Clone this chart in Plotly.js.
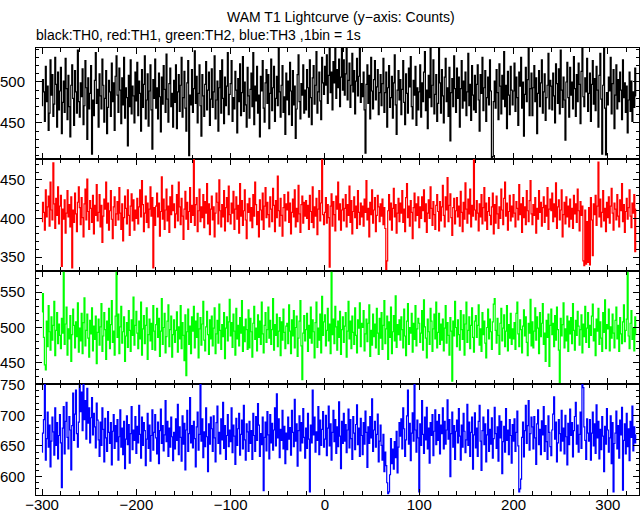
<!DOCTYPE html>
<html><head><meta charset="utf-8">
<script src="https://cdn.plot.ly/plotly-3.0.1.min.js"></script>
<style>html,body{margin:0;padding:0;background:#fff}#chart{width:643px;height:515px}</style>
</head><body><div id="chart"></div>
<script>
// Time of first bin (s) and bin size (s)
const tStart = -300;
const binSize = 1;

const th0 = [
471,503,488,452,519,476,495,441,462,527,484,509,458,473,530,497,445,512,466,489,
518,437,475,501,463,529,492,454,508,470,433,496,521,480,447,514,488,462,539,476,
457,499,482,516,448,471,526,493,430,505,467,486,520,412,478,459,502,536,474,491,
445,510,483,467,528,496,451,480,514,437,469,502,488,458,523,476,499,441,507,532,
484,463,517,490,449,505,472,530,456,493,481,422,508,470,527,461,495,483,450,512,
477,524,459,501,486,440,515,469,497,532,455,478,510,446,489,521,466,418,503,480,
528,468,493,455,511,482,439,506,473,520,491,463,534,479,451,498,517,470,486,445,
502,475,521,443,488,509,464,496,530,457,481,513,468,440,499,526,410,484,472,515,
463,492,538,474,507,450,486,521,471,434,509,483,458,497,525,466,490,512,447,479,
516,469,488,532,455,478,501,440,493,514,462,527,480,449,506,471,495,536,460,485,
498,526,452,481,467,513,490,438,504,476,522,459,487,531,464,500,472,445,518,483,
456,491,511,470,536,448,495,477,519,462,484,433,507,489,526,468,451,499,515,474,
509,443,486,528,465,493,519,452,480,507,471,541,488,457,496,520,463,482,436,511,
478,501,460,524,489,447,514,472,495,431,467,509,533,476,455,498,484,521,462,490,
466,515,493,457,527,481,448,505,520,473,496,537,462,488,512,477,454,530,499,485,
519,496,533,474,508,541,487,512,466,525,499,541,480,515,493,528,470,506,541,490,
527,484,510,541,478,502,523,469,496,535,488,514,461,501,529,483,507,541,475,498,
482,512,466,413,497,521,474,508,455,530,489,467,503,526,478,494,515,460,487,509,
471,498,529,463,487,512,445,493,520,469,481,507,456,499,533,472,436,490,514,478,
503,460,491,526,475,448,510,486,462,517,494,531,470,455,502,484,519,447,493,466,
488,521,457,499,476,512,537,465,490,443,508,481,541,470,496,527,461,485,509,452,
474,541,499,462,515,483,450,506,529,476,493,458,518,428,487,504,470,532,492,463,
517,480,506,445,492,526,468,501,477,512,459,488,535,471,497,453,520,484,466,508,
463,497,521,478,440,509,486,530,465,493,514,452,481,506,472,527,489,408,409,476,
501,468,515,487,454,522,495,461,508,479,537,470,496,443,513,484,460,519,490,472,
489,523,464,506,481,447,512,495,530,468,500,434,485,518,476,503,541,459,492,511,
459,493,520,476,505,437,486,514,470,499,527,462,488,510,453,481,496,535,467,502,
495,466,511,483,450,522,498,474,516,461,539,490,469,506,478,429,500,524,481,457,
518,484,500,467,531,492,458,509,476,523,497,449,513,541,482,470,505,488,529,464,
486,511,452,497,526,473,504,465,519,490,445,508,535,479,412,496,541,468,411,487,
472,506,489,530,461,498,515,443,484,521,467,503,476,512,490,454,527,481,499,463,
495,438,478,512,464,501,452,488,469,517,483];

const th1 = [
396,421,408,385,437,402,415,429,390,447,411,398,472,419,387,426,404,441,393,416,
430,338,412,399,424,381,407,436,402,418,389,428,336,411,395,433,406,383,421,441,
414,392,427,401,376,419,438,398,451,409,386,423,413,395,430,380,417,404,444,397,
408,431,389,417,369,403,425,412,447,394,420,385,410,436,399,374,415,428,391,406,
422,398,440,407,386,419,371,401,429,413,393,437,404,378,416,432,397,424,385,411,
400,426,393,415,437,402,449,418,383,407,429,395,420,388,412,441,403,427,336,414,
391,416,433,402,420,377,409,454,399,425,386,411,438,397,416,382,428,405,443,410,
419,388,406,431,397,447,415,392,426,403,373,412,435,399,421,386,409,440,395,417,
404,476,391,418,427,383,410,438,396,415,401,431,388,422,407,445,393,419,379,412,
429,398,415,376,407,433,421,393,450,410,389,418,402,436,384,414,427,396,442,405,
393,420,407,435,386,412,428,399,417,381,445,403,423,391,410,437,398,374,419,408,
426,397,414,388,431,403,447,418,392,409,376,424,411,398,433,386,416,440,401,421,
405,389,428,412,396,439,417,383,423,401,455,410,390,426,404,377,414,431,397,419,
411,434,395,420,380,408,425,402,437,389,413,396,443,406,382,418,429,394,421,403,
423,400,417,386,430,409,395,441,388,415,403,426,379,412,436,397,420,476,405,392,
408,427,394,418,401,337,416,432,390,422,405,384,429,412,447,398,419,385,411,425,
397,413,431,389,418,404,442,395,423,380,409,428,401,416,387,436,408,392,420,402,
416,390,425,408,449,398,413,376,421,405,437,394,411,427,383,404,430,415,396,419,
403,425,392,414,387,333,345,410,431,398,420,385,413,439,402,418,381,407,426,396,
420,407,436,395,412,383,427,445,401,416,390,423,408,374,414,433,397,419,404,428,
388,415,400,428,410,437,396,419,382,407,424,400,441,413,391,422,405,386,417,431,
409,384,422,397,415,443,404,389,428,411,453,396,417,432,401,378,414,426,393,410,
427,402,416,390,435,408,383,421,399,446,412,394,425,406,438,389,417,403,476,411,
398,423,407,384,419,402,431,393,414,440,397,420,386,409,427,404,392,415,433,380,
418,394,429,406,387,415,400,438,411,392,426,447,403,420,385,409,430,397,416,402,
431,407,389,422,413,398,444,405,419,382,427,401,415,392,436,410,396,423,449,406,
392,418,404,427,381,413,399,436,408,421,390,414,428,395,417,403,440,386,412,425,
410,433,396,419,402,446,387,415,424,398,411,437,376,405,421,393,428,402,416,389,
425,399,413,387,430,406,419,395,438,410,384,422,404,416,345,339,411,341,396,343,
414,340,427,398,352,419,405,430,391,416,473,402,425,389,408,436,397,413,383,421,
401,428,394,416,439,407,385,420,412,398,431,403,389,424,410,445,396,418,382,409,
426,399,414,437,403,388,420,407,431,357,412];

const th2 = [
522,548,486,447,440,509,473,531,494,468,515,482,503,537,460,496,521,477,505,489,
470,513,492,578,476,505,529,461,498,484,517,452,490,526,503,471,508,487,535,465,
499,481,520,463,507,542,474,496,519,485,458,510,491,528,467,502,483,516,449,493,
512,475,501,534,466,488,521,497,455,509,482,527,470,504,538,479,495,461,516,578,
486,519,463,501,530,478,494,515,452,488,507,472,524,496,466,511,489,543,475,503,
523,492,470,509,484,536,461,498,517,477,503,528,455,490,512,481,506,469,531,495,
468,504,527,486,513,459,495,541,476,500,520,464,487,509,532,473,497,516,458,490,
511,479,496,522,465,501,484,531,470,507,489,453,518,432,494,526,476,502,463,515,
495,530,471,509,486,520,457,498,514,475,505,537,482,467,501,523,490,462,511,484,
516,474,499,528,463,491,510,478,533,496,469,504,487,521,456,499,515,481,508,540,
488,507,472,519,495,461,527,484,503,474,514,492,538,466,501,480,512,497,469,525,
471,513,494,458,506,530,483,499,467,518,486,509,476,536,491,464,503,521,479,497,
529,485,510,476,497,541,468,504,489,519,473,495,514,460,508,482,526,493,470,502,
506,477,532,495,463,511,488,524,471,500,516,459,485,509,538,474,426,492,517,481,
497,520,466,503,485,529,478,511,494,457,507,536,472,499,482,519,464,544,489,508,
518,474,496,527,481,505,463,578,490,512,477,530,501,468,509,486,523,462,497,515,
479,502,521,458,495,537,484,509,470,516,493,476,528,489,464,511,499,535,473,506,
500,524,467,491,512,480,506,532,459,496,475,519,487,505,471,527,492,462,513,485,
521,469,503,538,477,498,516,455,508,486,529,463,494,517,481,545,472,504,490,511,
482,515,497,471,526,488,460,509,534,476,500,492,520,465,506,483,531,474,498,513,
506,479,492,524,468,539,501,485,457,512,494,476,527,509,466,498,519,484,536,471,
493,520,476,505,482,512,467,499,531,478,507,489,461,514,495,424,509,488,537,500,
473,511,490,468,524,497,483,518,461,505,536,479,496,515,470,503,528,486,465,509,
517,486,503,532,475,498,466,521,490,509,478,457,500,526,484,512,494,469,508,533,
541,496,478,513,489,462,506,527,481,499,518,473,495,531,467,504,485,520,476,498,
484,507,469,520,536,491,473,511,497,464,502,525,488,515,479,460,506,492,540,474,
508,471,495,528,482,515,499,463,521,487,506,534,476,492,452,510,486,519,445,503,
526,490,506,473,517,482,529,497,468,422,513,488,504,535,471,498,481,516,466,509,
491,514,477,534,496,468,510,489,523,502,475,497,518,464,505,487,530,479,499,521,
472,503,489,516,533,481,498,460,512,495,527,476,508,485,466,521,493,539,470,504,
498,526,467,501,485,519,492,471,510,529,484,503,466,514,491,477,508,532,480,496,
512,578,488,470,506,524,483,499,467,515,490];

const th3 = [
640,671,693,750,627,662,705,648,684,616,658,697,673,635,712,651,688,629,667,701,
655,582,679,714,637,690,721,664,645,698,676,611,683,736,659,702,741,670,648,689,
751,706,738,675,751,693,724,661,744,687,712,655,696,729,668,703,681,647,720,692,
660,633,689,651,712,677,624,695,663,641,706,672,654,688,619,674,701,646,683,657,
693,627,665,709,648,679,636,690,613,661,699,652,685,622,670,714,644,676,659,698,
638,682,655,716,669,630,697,651,688,675,618,661,703,646,684,625,667,709,643,672,
701,663,637,689,621,675,710,654,683,642,668,724,657,690,633,679,648,697,665,626,
672,645,694,659,718,636,681,664,625,699,653,687,611,676,708,641,670,729,655,683,
647,690,662,616,681,705,643,669,751,658,694,631,673,649,712,665,608,686,653,697,
678,641,699,663,624,688,715,654,672,637,694,660,721,646,683,628,667,701,649,676,
657,712,639,684,666,620,695,651,678,703,635,669,692,645,716,660,627,686,673,641,
690,654,675,628,703,667,641,698,659,719,684,633,670,652,697,577,664,689,642,706,
668,629,701,655,687,643,676,712,650,735,663,694,631,677,659,708,645,682,621,671,
644,697,661,680,635,708,672,649,726,658,686,617,675,699,642,688,655,711,664,630,
679,646,703,661,575,684,655,741,668,697,640,673,659,714,636,692,651,677,706,648,
661,700,634,679,715,650,686,627,672,708,657,693,638,681,649,722,666,613,690,654,
703,658,685,639,676,710,647,693,662,628,698,671,644,685,717,652,679,633,695,667,
636,688,653,707,672,615,681,654,698,663,727,641,676,690,648,669,702,624,658,684,
651,627,669,608,640,618,590,572,575,603,662,621,645,612,657,631,674,606,648,688,
666,694,645,712,678,633,660,699,741,653,687,626,671,704,658,751,676,640,692,663,
575,686,651,724,669,638,697,660,713,645,679,622,688,667,701,634,674,709,652,690,
659,701,637,684,670,712,645,690,653,676,725,661,693,600,670,705,648,683,628,674,
692,655,711,666,627,684,648,703,674,639,660,718,651,689,633,672,697,612,668,704,
647,679,633,690,716,658,610,675,697,652,686,624,668,709,641,677,653,696,630,662,
713,670,646,681,625,699,663,690,605,657,682,640,711,659,676,636,693,667,622,685,
658,694,641,672,707,650,575,580,596,664,689,632,675,716,654,683,724,643,670,697,
681,645,698,663,620,686,709,652,677,636,691,668,714,641,683,657,628,699,672,649,
634,676,702,730,661,689,624,655,693,670,642,708,658,679,637,700,665,619,687,652,
710,667,688,632,675,698,721,653,684,640,669,705,646,751,745,681,659,628,694,671,
658,693,627,671,705,650,686,638,717,663,690,629,677,644,698,666,608,682,653,711,
676,640,663,699,621,688,575,654,671,707,645,683,630,692,668,713,578,659,686,637,
703,649,678,626,690,664,715,642,681,655,668];

const seriesNames = ["TH0", "TH1", "TH2", "TH3"];
const seriesColors = ["#000000", "#ff0000", "#00ff00", "#0000ff"];
const seriesData = [th0, th1, th2, th3];
const yRanges = [[406, 541.5], [332, 477], [420, 580], [570, 751]];
const yTickVals = [[450, 500], [350, 400, 450], [450, 500, 550], [600, 650, 700, 750]];
const xRange = [-306.4, 333];
const xTickVals = [-300, -200, -100, 0, 100, 200, 300];

const titleText = "WAM T1 Lightcurve (y\u2212axis: Counts)";
const subtitleText = "black:TH0, red:TH1, green:TH2, blue:TH3 ,1bin = 1s";

const FONT = "Liberation Sans, Arial, Helvetica, sans-serif";
const domains = [[0.7517, 1], [0.5011, 0.7517], [0.2483, 0.5011], [0, 0.2483]];

const traces = [];
const layout = {
  width: 643, height: 515,
  margin: {l: 36, r: 4, t: 48, b: 20},
  paper_bgcolor: "#fff", plot_bgcolor: "#fff",
  showlegend: false,
  font: {family: FONT, size: 15, color: "#000"},
  annotations: [
    {text: titleText, xref: "paper", yref: "paper", x: 0.505, y: 1.069, xanchor: "center", yanchor: "middle",
     showarrow: false, font: {family: FONT, size: 14, color: "#000"}},
    {text: subtitleText, xref: "paper", yref: "paper", x: -0.003, y: 1.029, xanchor: "left", yanchor: "middle",
     showarrow: false, font: {family: FONT, size: 14, color: "#000"}}
  ]
};

for (let i = 0; i < 4; i++) {
  const n = i + 1;
  const xa = n === 1 ? "x" : "x" + n;
  const ya = n === 1 ? "y" : "y" + n;
  traces.push({
    type: "scatter", mode: "lines", name: seriesNames[i],
    x0: tStart, dx: binSize, y: seriesData[i],
    xaxis: xa, yaxis: ya,
    line: {color: seriesColors[i], width: 1.2, shape: "hvh"},
    hoverinfo: "skip"
  });
  const axCommon = {
    showline: true, linecolor: "#000", linewidth: 1, mirror: "allticks",
    ticks: "inside", ticklen: 6, tickwidth: 1, tickcolor: "#000",
    showgrid: false, zeroline: false,
    tickfont: {family: FONT, size: 15, color: "#000"}
  };
  layout[(n === 1 ? "xaxis" : "xaxis" + n)] = Object.assign({}, axCommon, {
    domain: [0, 1], anchor: ya, range: xRange,
    tickmode: "array", tickvals: xTickVals,
    ticktext: xTickVals.map(v => v < 0 ? "\u2212" + Math.abs(v) : String(v)),
    showticklabels: n === 4,
    ticklabelstandoff: -4,
    minor: {dtick: 20, tick0: 0, ticks: "inside", ticklen: 4, tickcolor: "#000", showgrid: false},
    matches: n === 1 ? undefined : "x"
  });
  layout[(n === 1 ? "yaxis" : "yaxis" + n)] = Object.assign({}, axCommon, {
    domain: domains[i], anchor: xa, range: yRanges[i],
    tickmode: "array", tickvals: yTickVals[i],
    ticklabelstandoff: 7,
    minor: {dtick: 10, tick0: 0, ticks: "inside", ticklen: 3, tickcolor: "#000", showgrid: false}
  });
}

Plotly.newPlot("chart", traces, layout, {staticPlot: true, displayModeBar: false});
</script>
</body></html>
